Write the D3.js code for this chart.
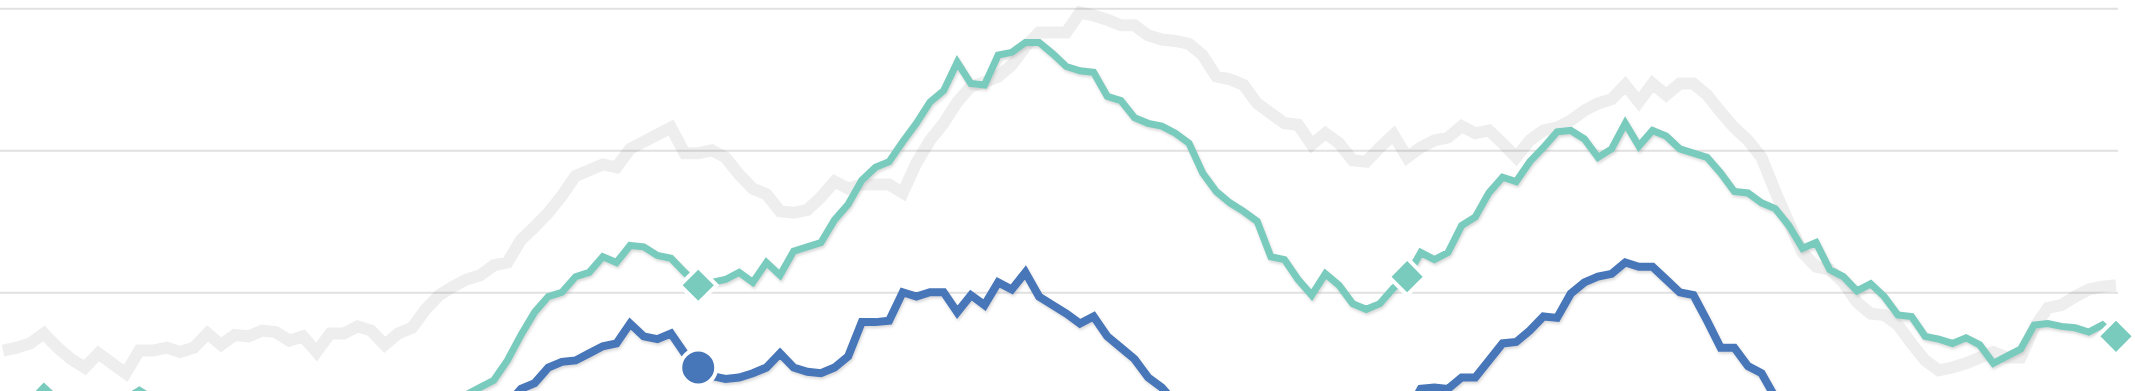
<!DOCTYPE html>
<html>
<head>
<meta charset="utf-8">
<script src="https://cdn.jsdelivr.net/npm/d3@7"></script>
<style>
body { margin: 0; background: #fff; }
svg { display: block; overflow: hidden; }
</style>
</head>
<body>
<div class="g-chart"></div>
<script>
let weeks = d3.range(0, 156);
let gridValues = [0, 10, 20, 30, 40];
let markerWeeks = [51, 103, 155];

let gray = [
  15.9,16.1,16.4,17.1,16.1,15.3,14.7,15.7,15.0,14.3,
  15.9,15.9,16.1,15.8,16.1,17.1,16.3,17.0,16.9,17.3,
  17.2,16.6,16.9,15.8,17.1,17.1,17.6,17.3,16.3,17.1,
  17.5,18.8,19.8,20.4,20.9,21.2,21.9,22.1,23.7,24.6,
  25.6,26.8,28.2,28.6,29.0,28.8,30.1,30.6,31.1,31.6,
  29.8,29.8,30.0,29.5,28.3,27.3,26.9,25.7,25.6,25.8,
  26.7,27.8,27.3,27.6,27.6,27.6,27.0,29.1,30.7,31.9,
  33.4,34.5,34.8,35.2,36.0,37.3,38.3,38.3,38.3,39.7,
  39.5,39.2,38.8,38.8,38.1,37.8,37.7,37.5,36.7,35.2,
  35.0,34.6,33.3,32.6,31.9,31.8,30.4,31.2,30.5,29.3,
  29.2,30.2,31.1,29.5,30.2,30.7,30.9,31.7,31.2,31.4,
  30.5,29.5,30.7,31.4,31.6,32.1,32.8,33.3,33.6,34.6,
  33.4,34.7,33.9,34.7,34.7,33.9,32.7,31.6,30.7,29.5,
  27.1,24.9,22.8,21.8,21.6,20.7,19.3,18.5,18.4,17.7,
  16.4,15.2,14.5,14.7,15.0,15.4,15.8,15.4,15.4,17.5,
  18.9,19.1,19.7,20.2,20.4,20.5
];

let teal = [
  12.4,12.0,12.3,13.3,12.4,12.0,11.6,11.8,12.1,12.5,
  13.1,12.5,12.0,11.8,11.5,11.9,11.4,11.2,11.5,11.0,
  10.8,10.5,10.9,10.6,10.8,11.0,11.3,11.6,11.4,11.8,
  12.0,11.9,12.2,12.3,12.8,13.3,13.8,15.2,17.0,18.6,
  19.7,20.0,21.1,21.4,22.5,22.1,23.3,23.2,22.6,22.4,
  21.4,20.5,20.7,20.9,21.4,20.7,22.1,21.2,22.9,23.2,
  23.5,25.1,26.2,27.9,28.8,29.2,30.6,31.9,33.4,34.2,
  36.2,34.7,34.6,36.7,36.9,37.6,37.6,36.8,35.9,35.6,
  35.5,33.8,33.5,32.3,31.9,31.7,31.2,30.5,28.4,27.1,
  26.3,25.7,25.0,22.5,22.3,20.9,19.8,21.3,20.5,19.2,
  18.8,19.2,20.3,21.1,22.8,22.3,22.8,24.7,25.3,27.0,
  28.1,27.8,29.2,30.2,31.3,31.4,30.8,29.5,30.1,31.9,
  30.3,31.4,31.0,30.1,29.8,29.5,28.4,27.1,27.0,26.3,
  25.9,24.7,23.1,23.5,21.6,21.1,20.1,20.6,19.7,18.4,
  18.3,16.9,16.7,16.4,16.8,16.3,15.0,15.5,16.0,17.7,
  17.8,17.6,17.5,17.2,17.7,16.9
];

let blue = [
  9.6,9.9,10.3,10.0,9.5,9.2,9.6,10.1,9.8,9.3,
  9.0,9.4,9.7,10.2,10.0,10.5,10.3,10.8,11.0,10.6,
  10.2,9.9,10.3,9.8,10.4,10.7,11.0,10.8,10.5,10.9,
  11.2,11.0,11.4,11.6,11.3,11.5,11.9,12.1,13.2,13.6,
  14.7,15.1,15.2,15.7,16.2,16.4,17.8,16.9,16.7,17.1,
  15.7,14.7,14.1,13.9,14.0,14.3,14.7,15.7,14.7,14.4,
  14.3,14.7,15.5,17.9,17.9,18.0,20.0,19.7,20.0,20.0,
  18.6,19.8,19.1,20.7,20.2,21.4,19.7,19.1,18.5,17.8,
  18.3,16.9,16.1,15.3,14.0,13.3,12.2,11.6,11.0,10.3,
  9.8,9.2,8.8,8.5,8.3,8.6,8.9,9.4,9.9,10.2,
  10.6,11.0,11.3,11.5,13.2,13.3,13.2,14.0,14.0,15.2,
  16.4,16.5,17.3,18.3,18.2,19.9,20.7,21.1,21.3,22.1,
  21.8,21.8,20.9,20.0,19.8,18.0,16.1,16.1,14.8,14.3,
  12.6,11.8,11.0,10.3,9.7,9.2,8.8,8.5,8.2,8.0,
  7.9,8.1,8.4,8.2,8.6,9.0,9.3,9.1,9.5,9.8,
  10.2,10.0,10.4,10.7,10.5,10.9
];

let colors = {
  gray: "#000",
  teal: "#79cbbd",
  blue: "#4776b9"
};

let width = 2135;
let height = 391;

let svg = d3.select(".g-chart").append("svg")
  .attr("width", width)
  .attr("height", height);

let defs = svg.append("defs");
let shadow = defs.append("filter")
  .attr("id", "g-shadow")
  .attr("x", "-2%").attr("y", "-20%")
  .attr("width", "104%").attr("height", "140%");
shadow.append("feDropShadow")
  .attr("dx", 1)
  .attr("dy", 2)
  .attr("stdDeviation", 1.5)
  .attr("flood-color", "#8a8a8a")
  .attr("flood-opacity", 0.35);

let x = d3.scaleLinear().domain([0, 155]).range([3, 2116]);
let y = d3.scaleLinear().domain([20, 40]).range([292.3, 8.3]);

// gridlines only, labels are outside the crop
let yaxis = d3.axisLeft(y).tickValues(gridValues).tickSize(-2118).tickFormat("");
let grid = svg.append("g").attr("class", "g-grid").call(yaxis);
grid.select(".domain").remove();
grid.selectAll(".tick line")
  .style("stroke", "#e1e1e1")
  .style("stroke-width", 2);

let line = d3.line()
  .x((d, i) => x(weeks[i]))
  .y(d => y(d));

svg.append("path")
  .datum(gray)
  .attr("d", line)
  .style("fill", "none")
  .style("stroke", colors.gray)
  .style("stroke-opacity", 0.068)
  .style("stroke-width", 12);

svg.append("path")
  .datum(teal)
  .attr("d", line)
  .attr("filter", "url(#g-shadow)")
  .style("fill", "none")
  .style("stroke", colors.teal)
  .style("stroke-width", 7);

svg.append("path")
  .datum(blue)
  .attr("d", line)
  .attr("filter", "url(#g-shadow)")
  .style("fill", "none")
  .style("stroke", colors.blue)
  .style("stroke-width", 8);

let diamond = d3.symbol().type(d3.symbolSquare).size(26 * 26);

svg.selectAll(".g-diamond")
  .data(markerWeeks)
  .enter().append("path")
  .attr("class", "g-diamond")
  .attr("d", diamond)
  .attr("transform", d => "translate(" + x(d) + "," + y(teal[d]) + ") rotate(45)")
  .style("fill", colors.teal)
  .style("stroke", "#fff")
  .style("stroke-width", 4);

svg.selectAll(".g-dot")
  .data(markerWeeks)
  .enter().append("circle")
  .attr("class", "g-dot")
  .attr("cx", d => x(d))
  .attr("cy", d => y(blue[d]))
  .attr("r", 18)
  .style("fill", colors.blue)
  .style("stroke", "#fff")
  .style("stroke-width", 4);
</script>
</body>
</html>
